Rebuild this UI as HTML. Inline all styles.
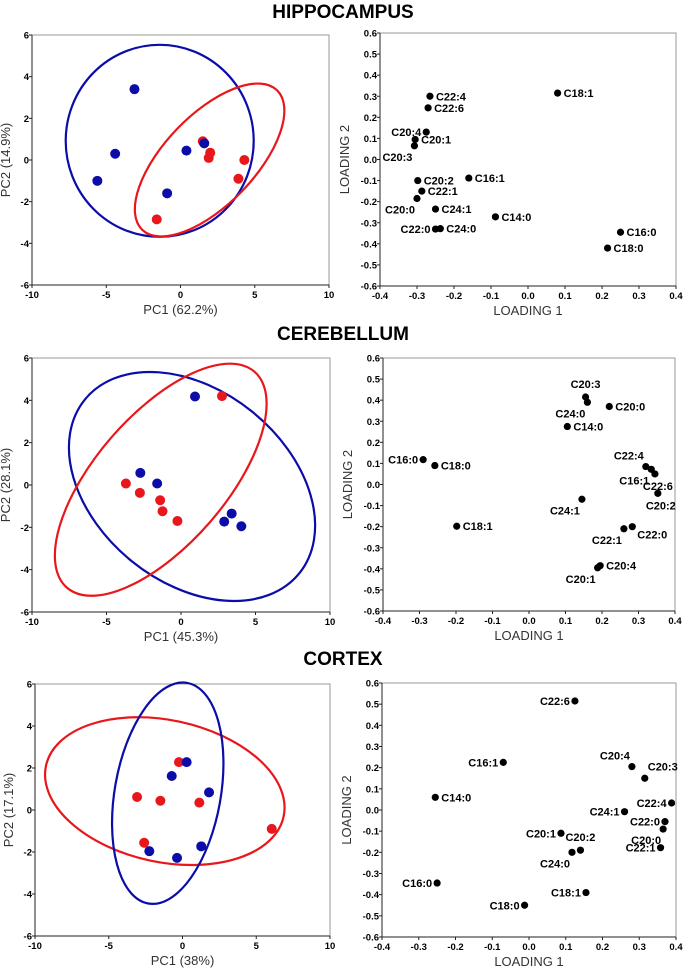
<!DOCTYPE html>
<html><head><meta charset="utf-8"><style>
html,body{margin:0;padding:0;background:#fff;}
svg{display:block;font-family:"Liberation Sans",Arial,sans-serif;}
</style></head><body>
<svg id="fig" width="686" height="974" viewBox="0 0 686 974" xmlns="http://www.w3.org/2000/svg">
<text x="343" y="18" text-anchor="middle" font-size="19" font-weight="bold">HIPPOCAMPUS</text>
<text x="343" y="340" text-anchor="middle" font-size="19" font-weight="bold">CEREBELLUM</text>
<text x="343" y="665" text-anchor="middle" font-size="19" font-weight="bold">CORTEX</text>
</svg>
<script>
// ---- Hippocampus score data ----
const hipBlueX = [-3.1, -4.4, -5.6, 0.4, 1.6, -0.9];
const hipBlueY = [3.4, 0.3, -1.0, 0.45, 0.8, -1.6];
const hipRedX = [1.5, 2.0, 1.9, 4.3, 3.9, -1.6];
const hipRedY = [0.9, 0.35, 0.1, 0.0, -0.9, -2.85];
// ellipses: center (data), radii px, angle deg
const hipEll = [
  {cx:-1.4, cy:0.92, rx:94, ry:96, ang:0, color:'blue'},
  {cx:1.96, cy:0.0, rx:97, ry:45, ang:-46, color:'red'}
];
// ---- Hippocampus loadings ----
const hipLabels = ['C22:4','C22:6','C20:4','C20:1','C20:3','C18:1','C20:2','C16:1','C22:1','C20:0','C24:1','C14:0','C22:0','C24:0','C16:0','C18:0'];
const hipL1 = [-0.265,-0.27,-0.275,-0.305,-0.307,0.08,-0.298,-0.16,-0.287,-0.3,-0.25,-0.088,-0.25,-0.237,0.25,0.215];
const hipL2 = [0.30,0.245,0.13,0.095,0.065,0.315,-0.1,-0.088,-0.15,-0.185,-0.235,-0.272,-0.33,-0.328,-0.345,-0.42];
const hipPos = ['r','r','l','r','lb','r','r','r','r','lb','r','r','l','r','r','r'];

// ---- Cerebellum score data ----
const cbBlueX = [0.94, -2.73, -1.6, 3.4, 2.9, 4.05];
const cbBlueY = [4.18, 0.57, 0.07, -1.35, -1.73, -1.95];
const cbRedX = [2.75, -3.7, -2.76, -1.4, -1.24, -0.24];
const cbRedY = [4.2, 0.07, -0.37, -0.72, -1.24, -1.7];
const cbEll = [
  {cx:0.74, cy:-0.07, rx:138, ry:96, ang:39, color:'blue'},
  {cx:-1.36, cy:0.25, rx:143, ry:65, ang:-49, color:'red'}
];
const cbLabels = ['C20:3','C24:0','C20:0','C14:0','C16:0','C18:0','C22:4','C16:1','C22:6','C20:2','C24:1','C18:1','C22:1','C22:0','C20:1','C20:4'];
const cbL1 = [0.155,0.16,0.22,0.105,-0.29,-0.258,0.32,0.335,0.345,0.353,0.145,-0.198,0.26,0.283,0.188,0.195];
const cbL2 = [0.415,0.39,0.37,0.275,0.118,0.09,0.085,0.072,0.05,-0.042,-0.07,-0.198,-0.21,-0.2,-0.395,-0.385];
const cbPos = ['t','lb','r','r','l','r','lt','lb','b','b','lb','r','lb','rb','lb','r'];

// ---- Cortex score data ----
const cxBlueX = [0.28, -0.73, 1.8, -2.25, -0.37, 1.27];
const cxBlueY = [2.28, 1.62, 0.84, -1.96, -2.28, -1.73];
const cxRedX = [-0.24, -3.08, -1.5, 1.14, -2.6, 6.05];
const cxRedY = [2.28, 0.62, 0.44, 0.35, -1.56, -0.9];
const cxEll = [
  {cx:-1.2, cy:0.9, rx:121.5, ry:71, ang:12, color:'red'},
  {cx:-1.0, cy:0.8, rx:53, ry:112, ang:10, color:'blue'}
];
const cxLabels = ['C22:6','C16:1','C20:4','C20:3','C14:0','C22:4','C24:1','C22:0','C20:0','C20:1','C20:2','C24:0','C22:1','C16:0','C18:1','C18:0'];
const cxL1 = [0.125,-0.07,0.28,0.315,-0.255,0.388,0.26,0.37,0.365,0.087,0.14,0.117,0.358,-0.25,0.155,-0.012];
const cxL2 = [0.515,0.225,0.205,0.15,0.06,0.033,-0.008,-0.055,-0.09,-0.11,-0.19,-0.2,-0.178,-0.345,-0.39,-0.45];
const cxPos = ['l','l','lt','rt','r','l','l','l','lb','l','t','lb','l','l','l','l'];

const pcXTicks = [-10,-5,0,5,10];
const pcYTicks = [6,4,2,0,-2,-4,-6];
const ldTicks = [-0.4,-0.3,-0.2,-0.1,0.0,0.1,0.2,0.3,0.4];
const ldYTicks = [0.6,0.5,0.4,0.3,0.2,0.1,0.0,-0.1,-0.2,-0.3,-0.4,-0.5,-0.6];

const NS='http://www.w3.org/2000/svg';
const svg=document.getElementById('fig');
const COL={blue:'#0c0ca8',red:'#e8171b'};
function mk(tag,attrs,parent){const e=document.createElementNS(NS,tag);for(const k in attrs)e.setAttribute(k,attrs[k]);(parent||svg).appendChild(e);return e;}

function axes(g,f,xt,yt,xfmt,yfmt,xTitle,yTitle,name){
  const sx=v=>f.x0+(v-f.xmin)/(f.xmax-f.xmin)*(f.x1-f.x0);
  const sy=v=>f.y1-(v-f.ymin)/(f.ymax-f.ymin)*(f.y1-f.y0);
  const fr=mk('rect',{x:f.x0,y:f.y0,width:f.x1-f.x0,height:f.y1-f.y0,fill:'none',stroke:'#999','stroke-width':1},g);
  
  
  const xa=mk('line',{x1:f.x0,y1:f.y1,x2:f.x1,y2:f.y1,stroke:'#222','stroke-width':1},g);
  
  
  const ya=mk('line',{x1:f.x0,y1:f.y0,x2:f.x0,y2:f.y1,stroke:'#222','stroke-width':1},g);
  
  
  xt.forEach(v=>{const x=sx(v);
    mk('line',{x1:x,y1:f.y1,x2:x,y2:f.y1+3,stroke:'#222'},g);
    const t=mk('text',{x:x,y:f.y1+13,'text-anchor':'middle','font-size':9.5,'font-weight':'bold'},g);
    t.textContent=xfmt(v);
    
    });
  yt.forEach(v=>{const y=sy(v);
    mk('line',{x1:f.x0-3,y1:y,x2:f.x0,y2:y,stroke:'#222'},g);
    const t=mk('text',{x:f.x0-3,y:y+3.5,'text-anchor':'end','font-size':9.5,'font-weight':'bold'},g);
    t.textContent=yfmt(v);
    
    });
  const xtt=mk('text',{x:(f.x0+f.x1)/2,y:f.y1+29,'text-anchor':'middle','font-size':13,fill:'#333'},g);
  xtt.textContent=xTitle;
  
  
  const yx=f.x0-(f.xTitleOff||22), yy=(f.y0+f.y1)/2;
  const ytt=mk('text',{x:yx,y:yy,'text-anchor':'middle','font-size':13,fill:'#333',transform:'rotate(-90 '+yx+' '+yy+')'},g);
  ytt.textContent=yTitle;
  
  
  return {sx,sy};
}
function fmt1(v){let s=Math.abs(v).toFixed(1);if(v<0)s='-'+s;return s;}

function scorePanel(name,f,bx,by,rx,ry,ells,xTitle){
  const g=mk('g',{});
  
  
  const {sx,sy}=axes(g,f,pcXTicks,pcYTicks,v=>String(v),v=>String(v),xTitle,f.yTitle,name);
  ells.forEach(e=>{
    const el=mk('ellipse',{cx:0,cy:0,rx:e.rx,ry:e.ry,fill:'none',stroke:COL[e.color],'stroke-width':2.2,
      transform:'translate('+sx(e.cx)+' '+sy(e.cy)+') rotate('+e.ang+')'},g);
    
    
  });
  rx.forEach((v,i)=>{const c=mk('circle',{cx:sx(v),cy:sy(ry[i]),r:5,fill:COL.red},g);
    
    });
  bx.forEach((v,i)=>{const c=mk('circle',{cx:sx(v),cy:sy(by[i]),r:5,fill:COL.blue},g);
    
    });
}
function loadPanel(name,f,labels,l1,l2,pos){
  const g=mk('g',{});
  
  
  const {sx,sy}=axes(g,f,ldTicks,ldYTicks,fmt1,fmt1,'LOADING 1','LOADING 2',name);
  labels.forEach((lab,i)=>{
    const x=sx(l1[i]),y=sy(l2[i]);
    const c=mk('circle',{cx:x,cy:y,r:3.6,fill:'#000'},g);
    
    
    let tx=x+6,ty=y+4,anc='start';
    const p=pos[i];
    if(p==='l'){tx=x-5;anc='end';}
    else if(p==='lb'){tx=x-2;ty=y+15;anc='end';}
    else if(p==='lt'){tx=x-2;ty=y-7;anc='end';}
    else if(p==='t'){tx=x;ty=y-9;anc='middle';}
    else if(p==='b'){tx=x-12;ty=y+16;anc='start';}
    else if(p==='rb'){tx=x+5;ty=y+12;}
    else if(p==='rt'){tx=x+3;ty=y-8;}
    const t=mk('text',{x:tx,y:ty,'text-anchor':anc,'font-size':11,'font-weight':'bold'},g);
    t.textContent=lab;
    
    
  });
}
const pcF=(x0,x1,y0,y1,yt)=>({x0,x1,y0,y1,xmin:-10,xmax:10,ymin:-6,ymax:6,yTitle:yt,xTitleOff:22});
const ldF=(x0,x1,y0,y1)=>({x0,x1,y0,y1,xmin:-0.4,xmax:0.4,ymin:-0.6,ymax:0.6,xTitleOff:31});

scorePanel('hippocampus',pcF(32,329,35,285,'PC2 (14.9%)'),hipBlueX,hipBlueY,hipRedX,hipRedY,hipEll,'PC1 (62.2%)');
loadPanel('hippocampus',ldF(380,676,33,286),hipLabels,hipL1,hipL2,hipPos);
scorePanel('cerebellum',pcF(32,330,358,612,'PC2 (28.1%)'),cbBlueX,cbBlueY,cbRedX,cbRedY,cbEll,'PC1 (45.3%)');
loadPanel('cerebellum',ldF(383,675,358,611),cbLabels,cbL1,cbL2,cbPos);
scorePanel('cortex',pcF(35,330,684,936,'PC2 (17.1%)'),cxBlueX,cxBlueY,cxRedX,cxRedY,cxEll,'PC1 (38%)');
loadPanel('cortex',ldF(382,676,683,937),cxLabels,cxL1,cxL2,cxPos);
</script>
</body></html>
